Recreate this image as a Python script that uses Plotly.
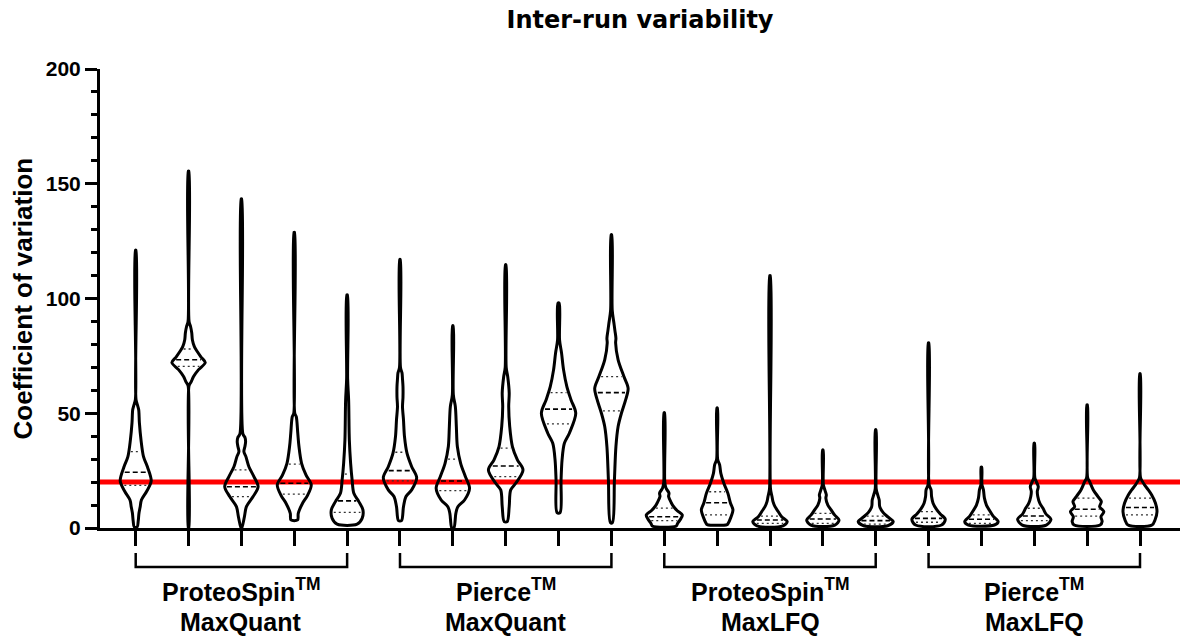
import numpy as np
import plotly.graph_objects as go

# ---------------- data ----------------
group_names = ["ProteoSpin<sup>TM</sup>", "Pierce<sup>TM</sup>", "ProteoSpin<sup>TM</sup>", "Pierce<sup>TM</sup>"]
group_methods = ["MaxQuant", "MaxQuant", "MaxLFQ", "MaxLFQ"]
group_members = [[1, 2, 3, 4, 5], [6, 7, 8, 9, 10], [11, 12, 13, 14, 15], [16, 17, 18, 19, 20]]
samples = list(range(1, 21))

medians = [24.3, 73.3, 18.0, 19.5, 11.8, 25.0, 20.5, 27.0, 51.8, 59.0,
           4.9, 11.0, 3.5, 3.9, 3.2, 4.2, 3.8, 5.2, 8.2, 8.9]
q1 = [18.6, 70.4, 13.7, 14.8, 6.8, 20.5, 16.3, 22.4, 45.4, 51.0,
      3.2, 5.7, 2.0, 2.0, 1.7, 2.5, 2.0, 3.2, 5.2, 5.7]
q3 = [33.3, 78.0, 25.3, 27.8, 23.5, 33.0, 30.0, 34.8, 59.0, 66.0,
      8.7, 15.8, 5.2, 6.4, 5.2, 7.1, 5.7, 8.6, 13.0, 13.0]
threshold_cv = 20

# kernel density profile of each violin: CV levels and relative density (half-width)
dens_levels = [
    [0.5, 3, 6.5, 9.3, 12.2, 16, 20.5, 26.7, 31.1, 38.4, 45.8, 51.5, 53.2, 56, 121],
    [0, 62, 63.8, 66, 69, 72.1, 74.5, 77, 79, 82, 85, 87.8, 90, 155.5],
    [0, 4.9, 9.3, 13.7, 18, 22.4, 26.7, 31.1, 33.3, 35.5, 37.6, 39.5, 41, 143.4],
    [3.5, 6.4, 10.8, 14, 18.8, 23.1, 28.2, 35.5, 41.3, 48.5, 50, 128.8],
    [1.7, 4.2, 7.9, 11.5, 15.1, 20.9, 28.2, 38.4, 55.8, 65, 101.6],
    [3.2, 9.3, 13.7, 16.6, 21.9, 26.7, 32.6, 39.8, 47.1, 52.9, 57, 61.6, 65, 67.6, 70, 117],
    [0, 6.4, 9.3, 12.2, 17.3, 22.4, 28.2, 35.5, 44.2, 52.9, 58, 88.1],
    [2.8, 9.3, 16.6, 19.5, 25.3, 29.7, 35.5, 44.2, 52.9, 58.8, 66, 70, 114.7],
    [6.7, 20.9, 29.7, 36.9, 41.3, 50, 55.8, 61.6, 68.9, 76.2, 82, 98],
    [2.3, 20.9, 35.5, 44.2, 50, 55.8, 60.9, 66, 73.3, 80.6, 82.7, 86, 89.3, 95, 127.8],
    [0.9, 2, 4, 5.7, 7.5, 9.5, 11, 13.7, 15.2, 17.4, 20, 50.2],
    [1.5, 2, 4.2, 7.9, 10.9, 15.2, 19.5, 23.8, 27.5, 30, 52.3],
    [0.9, 2.8, 4.9, 7.1, 9.3, 11.5, 13.7, 17, 110],
    [1.3, 3.5, 5.7, 7.9, 10, 13, 14.4, 16.6, 19, 34],
    [1.0, 2.8, 4.7, 6.7, 9.3, 12.2, 14.4, 17, 42.8],
    [1.3, 3.8, 6.1, 8.2, 10.8, 13.7, 16.6, 19, 80.7],
    [1.3, 2.8, 5.2, 7.9, 10, 13, 16.6, 19, 26.5],
    [1.3, 3.8, 6.1, 8.6, 10.8, 13.7, 16, 18, 20.2, 22, 36.9],
    [1.3, 2.8, 4.9, 7.1, 9.3, 11.5, 13.7, 16.6, 20.2, 22, 53.7],
    [1.3, 3.5, 7.1, 10.8, 14.4, 16.6, 18.8, 20.2, 22, 67.2],
]
dens_widths = [
    [1.5, 2.5, 3.3, 4.5, 5.7, 11, 15.5, 11.7, 7.8, 5.3, 3.7, 3, 2, 0.3, 0.3],
    [0.3, 0.5, 2.7, 5, 10, 16.7, 12.5, 8.5, 5.8, 3.8, 3.2, 2, 0.5, 0.3],
    [0.3, 3, 5, 11.7, 16.7, 12.5, 7.5, 4.5, 2.5, 3.5, 4.2, 3.5, 1.5, 0.3],
    [3.3, 4, 8.3, 13, 17, 11.7, 7.3, 4.7, 3.5, 2, 0.5, 0.3],
    [10, 15, 15.8, 11.7, 6.7, 5, 3.5, 2.2, 1.5, 0.5, 0.3],
    [1.5, 3.5, 6, 11.7, 16.7, 11.7, 7, 4.5, 3.5, 2.5, 3, 3, 2.5, 2, 0.5, 0.3],
    [1, 3, 5, 11.7, 16.7, 12.5, 7.8, 4.5, 3.5, 2.5, 0.5, 0.3],
    [1.5, 3.5, 5, 10, 17.3, 11.7, 6.7, 4, 3, 3.5, 2, 0.5, 0.3],
    [1.5, 2.5, 3.5, 5.8, 10.8, 17.2, 12.5, 8.3, 5, 3, 1.0, 0.6],
    [1, 3, 4.5, 6.7, 10, 14.2, 16.7, 12.5, 6.7, 4.2, 4.5, 3.5, 2.5, 0.8, 0.3],
    [12, 13.3, 16.5, 18, 13, 9, 7, 4.3, 4.7, 1.7, 0.5, 0.3],
    [10, 11, 13.3, 15.8, 13.3, 10.7, 6.7, 3.7, 2.5, 0.5, 0.3],
    [13, 17.2, 11.7, 8.3, 5, 3, 2, 0.5, 0.3],
    [12, 16.2, 11.7, 8.3, 5, 3, 3.5, 2, 0.5, 0.3],
    [12, 17.5, 12.5, 7.5, 4, 3.5, 2, 0.5, 0.3],
    [13, 16.7, 11.7, 7.8, 4.5, 3, 2.5, 0.5, 0.3],
    [13, 16.7, 11.7, 7.7, 5, 3, 2, 0.5, 0.3],
    [12, 16.7, 11.7, 8.7, 5.5, 3.5, 3, 4, 2, 0.5, 0.3],
    [13, 15, 13.8, 16.7, 12.5, 14.2, 10.8, 6.2, 2.5, 0.5, 0.3],
    [12, 15, 17, 15.5, 11.7, 8.3, 4.5, 2.5, 0.5, 0.3],
]

# ---------------- styling constants ----------------
DENS_SCALE = 1 / 52.86       # x-axis units per density unit
FONT = "Liberation Sans"
W, H = 1180, 637
ML, MR, MT, MB = 100, 0, 69, 109
PH = H - MT - MB


def py_to_paper(py):
    return (H - MB - py) / PH


fig = go.Figure()

# red threshold line (under the violin outlines)
fig.add_shape(type="line", xref="paper", x0=0, x1=1, yref="y", y0=threshold_cv, y1=threshold_cv,
              line=dict(color="#ff0000", width=5), layer="below")

# violins
for i, (lv, wd) in enumerate(zip(dens_levels, dens_widths)):
    c = samples[i]
    lv = np.asarray(lv, float)
    wd = np.asarray(wd, float) * DENS_SCALE
    xs = np.concatenate([c + wd, (c - wd)[::-1], [c + wd[0]]])
    ys = np.concatenate([lv, lv[::-1], [lv[0]]])
    fig.add_trace(go.Scatter(x=xs, y=ys, mode="lines",
                             line=dict(color="black", width=3, shape="spline", smoothing=0.9),
                             hoverinfo="skip", showlegend=False))


# median (dashed) and quartiles (dotted)
def hline_trace(values, dash, width, color):
    xs, ys = [], []
    for i, v in enumerate(values):
        c = samples[i]
        half = np.interp(v, dens_levels[i], dens_widths[i]) * DENS_SCALE - 2.2 / 52.86
        if half <= 0:
            continue
        xs += [c - half, c + half, None]
        ys += [v, v, None]
    return go.Scatter(x=xs, y=ys, mode="lines", line=dict(color=color, width=width, dash=dash),
                      hoverinfo="skip", showlegend=False)


fig.add_trace(hline_trace(medians, "5px,3px", 1.6, "black"))
fig.add_trace(hline_trace(q1, "2px,3px", 1.3, "#333333"))
fig.add_trace(hline_trace(q3, "2px,3px", 1.3, "#333333"))

# group brackets and labels
y_top = py_to_paper(553)
y_bot = py_to_paper(567)
for g, members in enumerate(group_members):
    a, b = members[0], members[-1]
    fig.add_shape(type="path", xref="x", yref="paper",
                  path=f"M {a},{y_top} L {a},{y_bot} L {b},{y_bot} L {b},{y_top}",
                  line=dict(color="black", width=2.5))
    xc = (a + b) / 2
    fig.add_annotation(x=xc, xref="x", y=py_to_paper(590), yref="paper", yanchor="middle",
                       text=group_names[g], showarrow=False,
                       font=dict(family=FONT, size=25, color="black", weight="bold"))
    fig.add_annotation(x=xc, xref="x", y=py_to_paper(622), yref="paper", yanchor="middle",
                       text=group_methods[g], showarrow=False,
                       font=dict(family=FONT, size=25, color="black", weight="bold"))

# y-axis title
fig.add_annotation(x=(22 - ML) / (W - ML - MR), xref="paper", y=0.5, yref="paper",
                   text="Coefficient of variation", textangle=-90, showarrow=False,
                   xanchor="center", yanchor="middle",
                   font=dict(family=FONT, size=26, color="black", weight="bold"))

fig.update_layout(
    width=W, height=H,
    margin=dict(l=ML, r=MR, t=MT, b=MB),
    paper_bgcolor="white", plot_bgcolor="white",
    title=dict(text="Inter-run variability", x=0.5, xref="paper", xanchor="center",
               y=1 - 20 / H, yref="container", yanchor="middle",
               font=dict(family="DejaVu Sans", size=24, color="black", weight="bold")),
    xaxis=dict(range=[1 - 35.7 / 52.86, 20 + 40 / 52.86], tickvals=samples, ticktext=[""] * 20,
               ticks="outside", ticklen=15, tickwidth=3, tickcolor="black",
               showline=True, linewidth=3, linecolor="black",
               showgrid=False, zeroline=False, fixedrange=True),
    yaxis=dict(range=[0, 200], dtick=50, tick0=0,
               ticks="outside", ticklen=12, tickwidth=3, tickcolor="black",
               minor=dict(dtick=10, ticks="outside", ticklen=6, tickwidth=3, tickcolor="black"),
               showline=True, linewidth=3, linecolor="black",
               showgrid=False, zeroline=False, fixedrange=True,
               tickfont=dict(family=FONT, size=21, color="black", weight="bold")),
)

fig.write_html("out.html", config={"displayModeBar": False},
               post_script="document.body.style.margin='0px';document.body.style.padding='0px';")
